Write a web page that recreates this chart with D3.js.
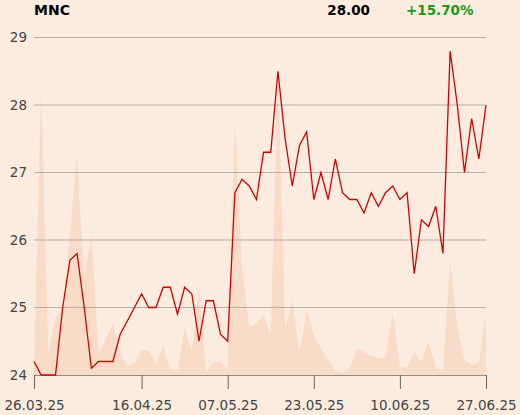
<!DOCTYPE html>
<html>
<head>
<meta charset="utf-8">
<script src="https://cdn.jsdelivr.net/npm/d3@7"></script>
<style>
  html, body { margin: 0; padding: 0; background: #fcece0; }
  svg { display: block; font-family: "DejaVu Sans", sans-serif; }
</style>
</head>
<body>
<svg id="chart" width="520" height="415"></svg>
<script>
const title = "MNC";
const lastPrice = "28.00";
const change = "+15.70%";

const dates = [
  "26.03.25","27.03.25","28.03.25","31.03.25",
  "01.04.25","02.04.25","03.04.25","04.04.25","07.04.25","08.04.25","09.04.25","10.04.25","11.04.25",
  "14.04.25","15.04.25","16.04.25","17.04.25","22.04.25","23.04.25","24.04.25","25.04.25","28.04.25",
  "29.04.25","30.04.25",
  "02.05.25","05.05.25","06.05.25","07.05.25","08.05.25","09.05.25","12.05.25","13.05.25","14.05.25",
  "15.05.25","16.05.25","19.05.25","20.05.25","21.05.25","22.05.25","23.05.25","26.05.25","27.05.25",
  "28.05.25","29.05.25","30.05.25",
  "02.06.25","03.06.25","04.06.25","05.06.25","06.06.25","09.06.25","10.06.25","11.06.25","12.06.25",
  "13.06.25","16.06.25","17.06.25","18.06.25","20.06.25","23.06.25","24.06.25","25.06.25","26.06.25",
  "27.06.25"
];

const prices = [
  24.2, 24.0, 24.0, 24.0, 25.0, 25.7, 25.8, 25.0, 24.1, 24.2,
  24.2, 24.2, 24.6, 24.8, 25.0, 25.2, 25.0, 25.0, 25.3, 25.3,
  24.9, 25.3, 25.2, 24.5, 25.1, 25.1, 24.6, 24.5, 26.7, 26.9,
  26.8, 26.6, 27.3, 27.3, 28.5, 27.5, 26.8, 27.4, 27.6, 26.6,
  27.0, 26.6, 27.2, 26.7, 26.6, 26.6, 26.4, 26.7, 26.5, 26.7,
  26.8, 26.6, 26.7, 25.5, 26.3, 26.2, 26.5, 25.8, 28.8, 28.0,
  27.0, 27.8, 27.2, 28.0
];

const volumes = [
  10, 288, 22, 58, 65, 140, 221, 95, 142, 23,
  35, 52, 23, 9, 12, 25, 25, 12, 29, 5,
  5, 48, 23, 88, 3, 13, 13, 7, 257, 107,
  48, 52, 60, 40, 308, 47, 75, 22, 65, 40,
  27, 15, 4, 2, 6, 27, 23, 19, 17, 17,
  63, 8, 7, 23, 13, 34, 7, 5, 116, 48,
  15, 10, 13, 62
];

const yTicks = [24, 25, 26, 27, 28, 29];
const xTickLabels = ["26.03.25", "16.04.25", "07.05.25", "23.05.25", "10.06.25", "27.06.25"];

const svg = d3.select("#chart");
const plotLeft = 34, plotRight = 486, plotTop = 37.5, plotBottom = 375;

const x = d3.scalePoint().domain(dates).range([plotLeft, plotRight]);
const y = d3.scaleLinear().domain([24, 29]).range([plotBottom, plotTop]);
const yv = d3.scaleLinear().domain([0, 337.5]).range([plotBottom, plotTop]);

// background
svg.append("rect").attr("width", 520).attr("height", 415).attr("fill", "#fcece0");

// volume area
const area = d3.area()
  .x((d, i) => x(dates[i]))
  .y0(plotBottom)
  .y1(d => yv(d));
svg.append("path").datum(volumes).attr("d", area).attr("fill", "#f9dcc7");

// grid lines
svg.append("g").selectAll("line").data(yTicks.filter(t => t !== 24)).join("line")
  .attr("x1", plotLeft).attr("x2", plotRight)
  .attr("y1", d => y(d)).attr("y2", d => y(d))
  .attr("stroke", "#b4b0ac").attr("stroke-width", 1);

// y labels
svg.append("g").selectAll("text").data(yTicks).join("text")
  .attr("x", 27).attr("y", d => y(d)).attr("dy", "0.36em")
  .attr("text-anchor", "end")
  .attr("font-size", "13.5px").attr("fill", "#444")
  .text(d => d);

// x axis
const xAxis = d3.axisBottom(x).tickValues(xTickLabels).tickSize(14).tickSizeOuter(0).tickPadding(10);
const gx = svg.append("g").attr("transform", `translate(0,${plotBottom})`).call(xAxis);
gx.select(".domain").attr("stroke", "#8c8c8c").attr("d", `M${plotLeft},0.5H${plotRight}`);
gx.selectAll(".tick line").attr("stroke", "#666");
gx.selectAll(".tick text").attr("font-size", "13.5px").attr("fill", "#444")
  .attr("font-family", "DejaVu Sans, sans-serif").attr("y", 25).attr("dy", "0.71em");

// price line
const line = d3.line().x((d, i) => x(dates[i])).y(d => y(d));
svg.append("path").datum(prices).attr("d", line)
  .attr("fill", "none").attr("stroke", "#d40000").attr("stroke-width", 1.3)
  .attr("stroke-linejoin", "miter");

// header
svg.append("text").attr("x", 34).attr("y", 14.5).attr("font-size", "14px").attr("font-weight", "bold")
  .attr("fill", "#000").text(title);
svg.append("text").attr("x", 370).attr("y", 14.5).attr("text-anchor", "end").attr("font-size", "13.5px")
  .attr("font-weight", "bold").attr("fill", "#000").text(lastPrice);
svg.append("text").attr("x", 406).attr("y", 14.5).attr("font-size", "13.5px")
  .attr("font-weight", "bold").attr("fill", "#1a9a1a").text(change);
</script>
</body>
</html>
